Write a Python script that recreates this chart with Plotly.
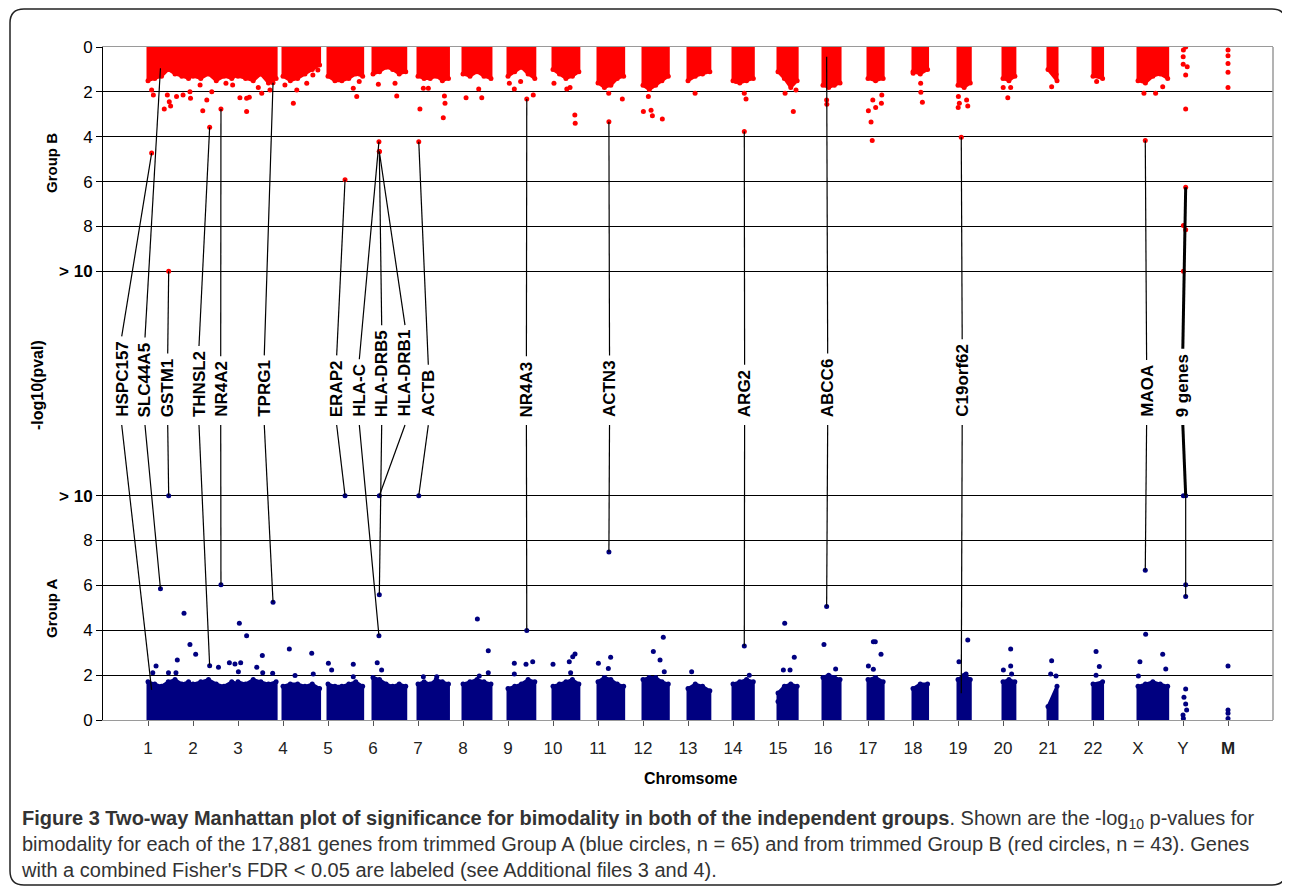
import plotly.graph_objects as go

# ---------------- data ----------------
chromosomes = [str(i) for i in range(1, 23)] + ["X", "Y", "M"]
chrom_length_mb = [247, 243, 199, 191, 181, 171, 159, 146, 140, 135, 134, 132,
                   114, 106, 100, 89, 79, 76, 64, 62, 47, 50, 155, 58, 0.02]
MB_PER_UNIT = 235.0  # genomic Mb per chromosome slot on the x axis

# dense band envelope (-log10 p) sampled evenly along each chromosome
band_b = [
    [1.5, 1.4, 1.3, 1.0, 1.2, 1.3, 1.4, 1.2], [1.3, 1.4, 1.2, 1.5, 1.3, 1.4, 1.2],
    [1.3, 1.4, 1.5, 1.2, 1.6, 1.4], [1.3, 1.5, 1.4, 1.2, 1.0, 0.8],
    [1.3, 1.5, 1.5, 1.4, 1.2, 1.3], [1.2, 1.1, 0.9, 1.0, 1.2, 1.1],
    [1.3, 1.4, 1.4, 1.3, 1.5, 1.4], [1.2, 1.3, 1.1, 1.3, 1.4],
    [1.3, 1.1, 0.9, 1.2, 1.4], [1.0, 1.2, 1.4, 1.3, 1.1],
    [1.6, 1.8, 1.7, 1.4, 1.3], [1.7, 1.9, 1.7, 1.5, 1.3],
    [1.5, 1.3, 1.2, 1.1], [1.5, 1.6, 1.5, 1.4], [1.1, 1.4, 1.8, 1.5],
    [1.7, 1.8, 1.7, 1.6], [1.4, 1.5, 1.4], [1.1, 1.2, 1.0], [1.7, 1.8, 1.6],
    [1.4, 1.5, 1.3], [1.0, 1.5], [1.3, 1.4], [1.5, 1.6, 1.3, 1.2, 1.4], [], [],
]
band_a = [
    [1.7, 1.6, 1.5, 1.7, 1.8, 1.6, 1.7, 1.5], [1.6, 1.7, 1.8, 1.6, 1.5, 1.7, 1.6],
    [1.7, 1.6, 1.8, 1.7, 1.6, 1.7], [1.5, 1.6, 1.6, 1.5, 1.6, 1.4],
    [1.6, 1.5, 1.5, 1.6, 1.7, 1.5], [1.9, 1.8, 1.6, 1.5, 1.6, 1.5],
    [1.6, 1.7, 1.6, 1.8, 1.7, 1.6], [1.6, 1.7, 1.8, 1.7, 1.6],
    [1.4, 1.5, 1.6, 1.8, 1.7], [1.5, 1.6, 1.7, 1.8, 1.6],
    [1.7, 1.9, 1.8, 1.6, 1.5], [1.8, 1.9, 1.9, 1.7, 1.6],
    [1.4, 1.6, 1.5, 1.3], [1.6, 1.7, 1.8, 1.7], [1.2, 1.5, 1.6, 1.5],
    [1.9, 2.0, 1.9, 1.8], [1.8, 1.9, 1.7], [1.4, 1.6, 1.6], [1.8, 2.0, 1.8],
    [1.7, 1.8, 1.7], [0.6, 1.5], [1.6, 1.7], [1.5, 1.6, 1.7, 1.6, 1.5], [], [],
]

# individual genes above the dense band: (chromosome, position Mb, -log10 p)
group_b_points = [
    ("1", 19, 1.92), ("1", 28, 2.14), ("1", 85, 2.76), ("1", 101, 2.14), ("1", 111, 2.44),
    ("1", 118, 2.63), ("1", 149, 2.21), ("1", 183, 2.14), ("1", 219, 1.99), ("1", 222, 2.29),
    ("2", 37, 1.69), ("2", 51, 2.84), ("2", 72, 2.36), ("2", 98, 1.99), ("2", 172, 1.62),
    ("2", 207, 1.69), ("3", 10, 2.26), ("3", 45, 2.29), ("3", 45, 2.88), ("3", 59, 2.24),
    ("3", 106, 1.81), ("3", 124, 2.06), ("3", 167, 1.92), ("4", 10, 1.69), ("4", 54, 2.51),
    ("4", 72, 1.92), ("4", 124, 1.62), ("4", 156, 1.25), ("4", 182, 1.02), ("5", 132, 1.84),
    ("5", 150, 2.21), ("5", 163, 1.54), ("6", 28, 1.66), ("6", 115, 1.62), ("6", 124, 2.18),
    ("7", 10, 2.76), ("7", 28, 1.84), ("7", 54, 1.84), ("7", 132, 3.15), ("7", 138, 2.18),
    ("7", 141, 2.51), ("8", 16, 2.26), ("8", 82, 1.87), ("8", 98, 2.26), ("9", 7, 1.62),
    ("9", 33, 1.87), ("9", 66, 1.54), ("9", 132, 2.14), ("10", 5, 1.62), ("10", 72, 1.87),
    ("10", 89, 1.81), ("10", 114, 3.03), ("10", 116, 3.40), ("11", 56, 2.06), ("11", 127, 2.32),
    ("12", 2, 2.88), ("12", 28, 2.21), ("12", 42, 2.82), ("12", 49, 3.07), ("12", 101, 3.21),
    ("13", 37, 2.06), ("14", 16, 1.54), ("14", 59, 2.06), ("14", 68, 2.32), ("15", 37, 2.06),
    ("15", 80, 2.88), ("15", 94, 1.92), ("16", 19, 2.36), ("16", 20, 2.55), ("17", 2, 2.84),
    ("17", 16, 3.34), ("17", 22, 4.17), ("17", 25, 2.36), ("17", 40, 2.70), ("17", 70, 2.51),
    ("17", 72, 2.14), ("18", 1, 1.17), ("18", 40, 1.62), ("18", 41, 2.02), ("18", 49, 2.46),
    ("19", 1, 2.70), ("19", 2, 2.21), ("19", 7, 2.51), ("19", 45, 2.36), ("19", 51, 2.63),
    ("20", 1, 1.81), ("20", 25, 2.26), ("20", 40, 1.81), ("21", 19, 1.77), ("21", 42, 1.22),
    ("22", 19, 1.54), ("X", 31, 2.06), ("X", 92, 2.06), ("X", 129, 1.77),
    ("Y", 14, 0.0), ("Y", 2, 0.13), ("Y", 1, 0.43), ("Y", 1, 0.77), ("Y", 22, 0.88),
    ("Y", 14, 1.25), ("Y", 14, 2.76), ("Y", 2, 7.96), ("Y", 14, 8.15), ("Y", 2, 10),
    ("M", 0, 0.13), ("M", 0, 0.39), ("M", 0, 0.73), ("M", 0, 1.13), ("M", 0, 1.81),
]
group_a_points = [
    ("1", 25, 2.11), ("1", 42, 2.41), ("1", 107, 2.11), ("1", 146, 2.11), ("1", 153, 2.67),
    ("1", 188, 4.76), ("1", 219, 3.37), ("2", 14, 2.93), ("2", 133, 2.35), ("2", 190, 2.55),
    ("2", 219, 2.50), ("3", 2, 2.15), ("3", 7, 4.31), ("3", 14, 2.55), ("3", 45, 3.76),
    ("3", 98, 2.35), ("3", 127, 2.87), ("3", 129, 2.11), ("3", 181, 2.08), ("4", 33, 3.17),
    ("4", 63, 1.98), ("4", 150, 2.97), ("4", 158, 2.05), ("5", 2, 2.53), ("5", 19, 2.23),
    ("5", 132, 2.48), ("5", 132, 1.93), ("6", 22, 2.55), ("6", 45, 2.23), ("7", 28, 1.93),
    ("7", 98, 1.93), ("8", 75, 4.50), ("8", 85, 1.96), ("8", 132, 3.09), ("8", 132, 2.11),
    ("9", 33, 2.53), ("9", 33, 2.05), ("9", 94, 2.48), ("9", 129, 2.60), ("10", 0, 2.48),
    ("10", 85, 2.60), ("10", 92, 2.11), ("10", 103, 2.82), ("10", 115, 2.94), ("11", 2, 2.53),
    ("11", 54, 2.30), ("11", 66, 2.80), ("12", 54, 3.05), ("12", 89, 2.67), ("12", 106, 3.69),
    ("12", 111, 2.15), ("13", 19, 2.15), ("14", 85, 2.00), ("15", 0, 0.82), ("15", 28, 2.23),
    ("15", 35, 4.31), ("15", 63, 2.23), ("15", 85, 2.80), ("16", 5, 3.37), ("16", 66, 2.27),
    ("17", 2, 2.41), ("17", 28, 3.49), ("17", 28, 2.26), ("17", 38, 3.49), ("17", 68, 2.93),
    ("19", 5, 2.60), ("19", 42, 2.05), ("19", 51, 3.57), ("20", 2, 2.23), ("20", 40, 3.17),
    ("20", 40, 2.41), ("20", 45, 2.05), ("21", 14, 2.05), ("21", 19, 2.64), ("21", 42, 1.96),
    ("22", 16, 3.05), ("22", 16, 2.00), ("22", 33, 2.38), ("X", 2, 1.96), ("X", 10, 2.60),
    ("X", 40, 3.82), ("X", 129, 2.93), ("X", 145, 2.27), ("Y", 0, 0.22), ("Y", 2, 0.07),
    ("Y", 5, 1.01), ("Y", 14, 1.38), ("Y", 14, 0.71), ("Y", 19, 0.45), ("Y", 2, 10),
    ("Y", 14, 6.03), ("Y", 14, 5.51), ("M", 0, 2.41), ("M", 0, 0.45), ("M", 0, 0.30),
    ("M", 0, 0.07),
]

# labeled genes (combined Fisher's FDR < 0.05); values > 10 are drawn at "> 10"
label_names = ["HSPC157", "SLC44A5", "GSTM1", "THNSL2", "NR4A2", "TPRG1", "ERAP2", "HLA-C",
               "HLA-DRB5", "HLA-DRB1", "ACTB", "NR4A3", "ACTN3", "ARG2", "ABCC6", "C19orf62",
               "MAOA", "9 genes"]
label_chrom = ["1", "1", "1", "2", "2", "3", "5", "6", "6", "6", "7", "9", "11", "14", "16",
               "19", "X", "Y"]
label_pos_mb = [19, 65, 108, 87, 146, 183, 89, 31, 33, 33, 4, 98, 57, 59, 19, 17, 38, 14]
label_b = [4.73, 0.95, 10, 3.58, 2.76, 1.59, 5.92, 4.22, 4.66, 4.66, 4.22, 2.32, 3.33, 3.77,
           0.43, 4.02, 4.17, 6.25]
label_a = [1.34, 5.85, 10, 2.42, 6.03, 5.25, 10, 3.76, 5.58, 10, 10, 3.99, 7.49, 3.30, 5.06,
           1.19, 6.67, 10]

y_ticks = [0, 2, 4, 6, 8, 10]
y_ticktext = ["0", "2", "4", "6", "8", "<b>&gt; 10</b>"]
x_ticktext = chromosomes[:24] + ["<b>M</b>"]

# ---------------- layout geometry ----------------
PAGE_OFF = 8                       # default body margin of the html page
W, H = 1290 - PAGE_OFF, 889 - PAGE_OFF
ML, MT, MR = 103 - PAGE_OFF, 47 - PAGE_OFF, 17
PW, PH = W - ML - MR, 673
MB = H - MT - PH
Y_SPAN = 30.0                      # group A 0..10, gap 10, group B 10..0
PX = PH / Y_SPAN                   # pixels per y unit
label_text_x = [0.416, 0.933, 1.438, 2.133, 2.616, 3.584, 5.193, 5.696, 6.193, 6.711,
                7.229, 9.409, 11.256, 14.258, 16.104, 19.093, 23.191, 23.996]
LABEL_BASE_A = 13.46               # where the rotated labels start (group A units)
LABEL_FONT = 17
SANS = "Liberation Sans, Arial, sans-serif"
RED, NAVY = "#FF0000", "#000080"

BOLD_W = {c: 722 for c in "ABCDHKNRU"}
BOLD_W.update({"E": 667, "F": 611, "G": 778, "I": 278, "L": 611, "M": 833, "O": 778,
               "P": 667, "S": 667, "T": 611, "Y": 667, "-": 333, " ": 278, "e": 556,
               "f": 333, "g": 611, "n": 611, "o": 611, "r": 389, "s": 556})


def text_len_px(s, size):
    return sum(BOLD_W.get(ch, 556) for ch in s) / 1000.0 * size


def gx(chrom, pos):
    return chromosomes.index(chrom) + 1 + pos / MB_PER_UNIT


def px_x(p):  # screen pixel -> paper x
    return (p - PAGE_OFF - ML) / PW


def px_y(p):  # screen pixel -> paper y
    return (MT + PH - (p - PAGE_OFF)) / PH


def band_polygons(profiles):
    xs, ys, mx, my = [], [], [], []
    for i, prof in enumerate(profiles):
        if not prof:
            continue
        c, L, n = chromosomes[i], chrom_length_mb[i], len(prof)
        pos = [L * j / (n - 1) for j in range(n)]
        xs += [gx(c, 0)] + [gx(c, p) for p in pos] + [gx(c, L), None]
        ys += [0] + list(prof) + [0, None]
        mx += [gx(c, p) for p in pos]
        my += list(prof)
    return xs, ys, mx, my


fig = go.Figure()

# ---- group A (bottom, y axis) ----
ax, ay, amx, amy = band_polygons(band_a)
fig.add_trace(go.Scatter(x=ax, y=ay, mode="lines", fill="toself", fillcolor=NAVY,
                         line=dict(color=NAVY, width=3), hoverinfo="skip", yaxis="y"))
ptx = [gx(c, p) for c, p, v in group_a_points] + amx + [gx(c, p) for c, p in zip(label_chrom, label_pos_mb)]
pty = [min(v, 10) for c, p, v in group_a_points] + amy + [min(v, 10) for v in label_a]
fig.add_trace(go.Scatter(x=ptx, y=pty, mode="markers", marker=dict(color=NAVY, size=5),
                         yaxis="y", hoverinfo="skip"))

# ---- group B (top, y2 axis reversed) ----
bx, by, bmx, bmy = band_polygons(band_b)
fig.add_trace(go.Scatter(x=bx, y=by, mode="lines", fill="toself", fillcolor=RED,
                         line=dict(color=RED, width=3), hoverinfo="skip", yaxis="y2"))
ptx = [gx(c, p) for c, p, v in group_b_points] + bmx + [gx(c, p) for c, p in zip(label_chrom, label_pos_mb)]
pty = [min(v, 10) for c, p, v in group_b_points] + bmy + [min(v, 10) for v in label_b]
fig.add_trace(go.Scatter(x=ptx, y=pty, mode="markers", marker=dict(color=RED, size=5),
                         yaxis="y2", hoverinfo="skip"))

# ---- label leader lines ----
annotations = []
for name, c, pos, vb, va, lx in zip(label_names, label_chrom, label_pos_mb, label_b,
                                    label_a, label_text_x):
    gxv = gx(c, pos)
    top_px = (MT + PH - LABEL_BASE_A * PX) - text_len_px(name, LABEL_FONT) - 6
    b_top = (top_px - MT) / PX                    # in group B units
    a_bot = LABEL_BASE_A - 7 / PX                 # in group A units
    wide = name == "9 genes"
    lw = 3 if wide else 1.2
    fig.add_trace(go.Scatter(x=[gxv, lx], y=[min(vb, 10), b_top], mode="lines", yaxis="y2",
                             hoverinfo="skip", line=dict(color="black", width=lw)))
    fig.add_trace(go.Scatter(x=[lx, gxv], y=[a_bot, min(va, 10)], mode="lines", yaxis="y",
                             hoverinfo="skip", line=dict(color="black", width=lw)))
    annotations.append(dict(x=lx, y=LABEL_BASE_A, xref="x", yref="y", text=f"<b>{name}</b>",
                            textangle=-90, xanchor="center", yanchor="bottom",
                            showarrow=False, borderpad=0,
                            font=dict(family=SANS, size=LABEL_FONT, color="black")))

# 9 genes: thin continuation to the lower group-A points on Y
y_a_vals = [v for c, p, v in group_a_points if c == "Y" and v > 5]
fig.add_trace(go.Scatter(x=[gx("Y", 14), gx("Y", 14)], y=[10, min(y_a_vals)], mode="lines",
                         yaxis="y", hoverinfo="skip", line=dict(color="black", width=1.2)))

# ---- axis titles & caption ----
annotations += [
    dict(x=px_x(51), y=px_y(163), xref="paper", yref="paper", text="<b>Group B</b>",
         textangle=-90, showarrow=False, xanchor="center", yanchor="middle",
         font=dict(family=SANS, size=15, color="black")),
    dict(x=px_x(37), y=px_y(385), xref="paper", yref="paper", text="<b>-log10(pval)</b>",
         textangle=-90, showarrow=False, xanchor="center", yanchor="middle",
         font=dict(family=SANS, size=16, color="black")),
    dict(x=px_x(51), y=px_y(608), xref="paper", yref="paper", text="<b>Group A</b>",
         textangle=-90, showarrow=False, xanchor="center", yanchor="middle",
         font=dict(family=SANS, size=15, color="black")),
    dict(x=px_x(690), y=px_y(778), xref="paper", yref="paper", text="<b>Chromsome</b>",
         showarrow=False, xanchor="center", yanchor="middle",
         font=dict(family=SANS, size=16, color="black")),
    dict(x=px_x(19), y=px_y(805), xref="paper", yref="paper", xanchor="left", yanchor="top",
         align="left", showarrow=False,
         font=dict(family=SANS, size=20, color="#333333"),
         text=("<b>Figure 3 Two-way Manhattan plot of significance for bimodality in both of the "
               "independent groups</b>. Shown are the -log<sub>10</sub> p-values for<br>"
               "bimodality for each of the 17,881 genes from trimmed Group A (blue circles, "
               "n = 65) and from trimmed Group B (red circles, n = 43). Genes<br>"
               "with a combined Fisher's FDR &lt; 0.05 are labeled (see Additional files 3 and 4).")),
]

# rounded outer frame
x0, x1, y0, y1 = px_x(10), px_x(1286), px_y(9), px_y(885)
rx, ry = 14 / PW, 14 / PH
frame = (f"M {x0+rx},{y0} L {x1-rx},{y0} Q {x1},{y0} {x1},{y0-ry} "
         f"L {x1},{y1+ry} Q {x1},{y1} {x1-rx},{y1} L {x0+rx},{y1} Q {x0},{y1} {x0},{y1+ry} "
         f"L {x0},{y0-ry} Q {x0},{y0} {x0+rx},{y0} Z")

fig.update_layout(
    width=W, height=H, margin=dict(l=ML, r=MR, t=MT, b=MB),
    paper_bgcolor="white", plot_bgcolor="white", showlegend=False,
    xaxis=dict(range=[0, 26], tickvals=list(range(1, 26)), ticktext=x_ticktext,
               ticks="outside", ticklen=5, tickcolor="#555555", showline=True,
               linecolor="#9a9a9a", mirror=True, showgrid=False, zeroline=False,
               ticklabelstandoff=8, tickfont=dict(family=SANS, size=17, color="#222222")),
    yaxis=dict(range=[0, Y_SPAN], tickvals=y_ticks, ticktext=y_ticktext, ticks="outside",
               ticklen=6, tickcolor="black", showline=True, linecolor="black",
               showgrid=True, gridcolor="black", gridwidth=1, zeroline=False,
               tickfont=dict(family=SANS, size=17, color="black")),
    yaxis2=dict(range=[Y_SPAN, 0], overlaying="y", side="left", anchor="x", tickvals=y_ticks,
                ticktext=y_ticktext, ticks="outside", ticklen=6, tickcolor="black",
                showline=True, linecolor="black", showgrid=True, gridcolor="black",
                gridwidth=1, zeroline=False, tickfont=dict(family=SANS, size=17, color="black")),
    annotations=annotations,
    shapes=[
        dict(type="line", xref="paper", yref="paper", x0=1, x1=1, y0=0, y1=1,
             line=dict(color="#9a9a9a", width=1.5)),
        dict(type="path", xref="paper", yref="paper", path=frame,
             line=dict(color="#222222", width=1.5)),
    ],
)

fig.write_html("out.html")
